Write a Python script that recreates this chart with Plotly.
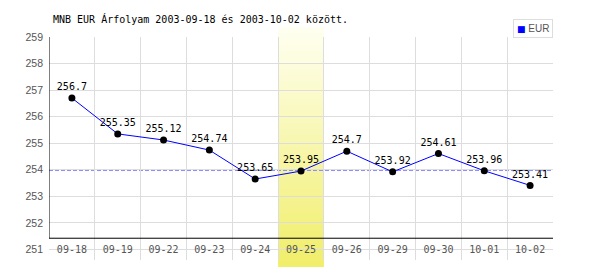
import plotly.graph_objects as go

# ---- data ----
dates = ["09-18", "09-19", "09-22", "09-23", "09-24", "09-25",
         "09-26", "09-29", "09-30", "10-01", "10-02"]
eur = [256.7, 255.35, 255.12, 254.74, 253.65, 253.95,
       254.7, 253.92, 254.61, 253.96, 253.41]
y_ticks = [251, 252, 253, 254, 255, 256, 257, 258, 259]
ref_rate = 253.97          # dashed reference line
highlight_date = "09-25"   # highlighted day
axis_base = 251.42         # where the black x-axis line sits
title_text = "MNB EUR Árfolyam 2003-09-18 és 2003-10-02 között."
series_name = "EUR"

idx = list(range(len(dates)))
hi = dates.index(highlight_date)

W, H = 600, 270
MT, MB = 37, 10
PH = H - MT - MB


def py(px):
    """paper y fraction for a pixel row"""
    return 1 - (px - MT) / PH


fig = go.Figure()

fig.add_trace(go.Scatter(
    x=idx, y=eur, mode="lines+markers+text",
    text=[str(v) for v in eur], textposition="top center",
    textfont=dict(family="DejaVu Sans Mono", size=10, color="#000000"),
    line=dict(color="#0000ff", width=1),
    marker=dict(color="#000000", size=7),
    cliponaxis=False, showlegend=False, hoverinfo="skip",
))

shapes = []
# dashed reference line (below grid)
shapes.append(dict(type="line", xref="x", yref="y", x0=-0.5, x1=len(dates) - 0.5,
                   y0=ref_rate, y1=ref_rate, layer="below",
                   line=dict(color="#8c8cff", width=1, dash="4px,2px")))
# gradient highlight band, built from thin stripes
top_px, bot_px = 27, 267
n = 40
c_top = (255, 255, 242)
c_bot = (240, 238, 104)
for i in range(n):
    t = (i + 0.5) / n
    col = tuple(round(c_top[k] + (c_bot[k] - c_top[k]) * t) for k in range(3))
    p0 = top_px + (bot_px - top_px) * i / n
    p1 = min(bot_px, top_px + (bot_px - top_px) * (i + 1) / n + 1.5)
    shapes.append(dict(type="rect", xref="x", yref="paper",
                       x0=hi - 0.5, x1=hi + 0.5, y0=py(p1), y1=py(p0),
                       layer="between", line=dict(width=0),
                       fillcolor="rgb(%d,%d,%d)" % col))
# black axis lines
shapes.append(dict(type="line", xref="x", yref="y", x0=-0.5, x1=len(dates) - 0.5,
                   y0=axis_base, y1=axis_base, layer="between",
                   line=dict(color="#000000", width=1)))
shapes.append(dict(type="line", xref="x", yref="y", x0=-0.5, x1=-0.5,
                   y0=axis_base, y1=y_ticks[-1], layer="between",
                   line=dict(color="#000000", width=1)))

fig.update_layout(
    width=W, height=H,
    margin=dict(l=49, r=47, t=MT, b=MB),
    paper_bgcolor="#ffffff", plot_bgcolor="#ffffff",
    shapes=shapes,
    title=dict(text=title_text, xref="container", yref="container",
               x=53 / W, xanchor="left", y=1 - 19.5 / H, yanchor="middle",
               font=dict(family="DejaVu Sans Mono", size=10, color="#000000")),
    xaxis=dict(
        range=[-0.5, len(dates) - 0.5], tickmode="array", tickvals=idx, ticktext=dates,
        showgrid=False, zeroline=False, showline=False, ticks="",
        tickfont=dict(family="DejaVu Sans Mono", size=10, color="#555555"),
        ticklabelstandoff=-18,
        minor=dict(tickmode="linear", tick0=0.5, dtick=1, showgrid=True,
                   gridcolor="#dddddd", gridwidth=1, ticks=""),
    ),
    yaxis=dict(
        range=[250.6, y_ticks[-1]], tickmode="array", tickvals=y_ticks,
        showgrid=True, gridcolor="#dddddd", gridwidth=1, zeroline=False,
        showline=False, ticks="",
        tickfont=dict(family="Liberation Sans", size=10.5, color="#555555"),
        ticklabelstandoff=5,
    ),
    annotations=[dict(
        xref="paper", yref="paper", x=1, xanchor="right", y=py(28.3), yanchor="middle",
        text="<span style='color:#0000ff;font-family:DejaVu Sans;font-size:9px'>■</span> " + series_name,
        showarrow=False, bgcolor="#ffffff", bordercolor="#dddddd", borderwidth=1,
        borderpad=3, font=dict(family="Liberation Sans", size=10, color="#555555"),
    )],
)

fig.write_html("out.html")
